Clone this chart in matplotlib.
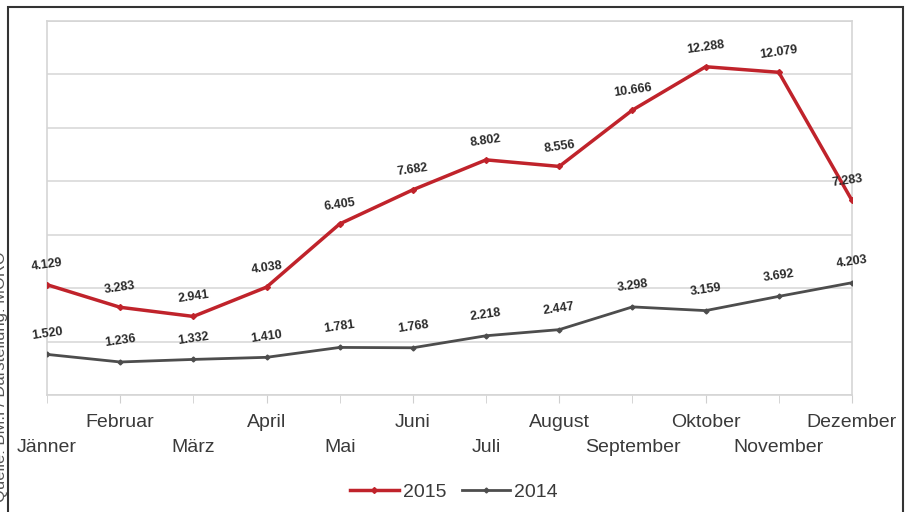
import numpy as np
import matplotlib
matplotlib.use("Agg")
import matplotlib.pyplot as plt
from matplotlib.patches import Rectangle

months = ["Jänner", "Februar", "März", "April", "Mai", "Juni", "Juli",
          "August", "September", "Oktober", "November", "Dezember"]
y2015 = [4129, 3283, 2941, 4038, 6405, 7682, 8802, 8556, 10666, 12288, 12079, 7283]
y2014 = [1520, 1236, 1332, 1410, 1781, 1768, 2218, 2447, 3298, 3159, 3692, 4203]

plt.rcParams['font.family'] = ['Liberation Sans', 'DejaVu Sans']

fig = plt.figure(figsize=(9.08, 5.12), dpi=100)
ax = fig.add_axes([47/908, 1-395/512, (852-47)/908, (395-21)/512])

x = np.arange(len(months))
red = "#c0232b"
grey = "#4d4d4d"

ax.plot(x, y2015, color=red, lw=2.5, marker="D", ms=3, label="2015", zorder=3)
ax.plot(x, y2014, color=grey, lw=2.0, marker="D", ms=2.5, label="2014", zorder=3)

def fmt(v):
    return f"{v:,}".replace(",", ".")

for xi, v in zip(x, y2015):
    dx = -3 if xi == 11 else 0
    ax.annotate(fmt(v), (xi, v), xytext=(dx, 14), textcoords="offset points",
                ha="center", va="center", fontsize=9, fontweight="bold",
                color="#2a2a2a", rotation=8)
for xi, v in zip(x, y2014):
    ax.annotate(fmt(v), (xi, v), xytext=(0, 15), textcoords="offset points",
                ha="center", va="center", fontsize=9, fontweight="bold",
                color="#2a2a2a", rotation=8)

ax.set_xlim(0, 11)
ax.set_ylim(0, 14000)
ax.set_yticks(np.arange(0, 14001, 2000))
ax.yaxis.grid(True, color="#dcdcdc", lw=1.3)
ax.set_axisbelow(True)
ax.tick_params(axis="y", which="both", left=False, labelleft=False)

# upper row: odd months (major ticks), lower row: even months (minor ticks)
ax.set_xticks(x[1::2])
ax.set_xticklabels(months[1::2])
ax.set_xticks(x[0::2], minor=True)
ax.set_xticklabels(months[0::2], minor=True)
ax.tick_params(axis="x", which="both", length=6, color="#cfcfcf",
               labelsize=14, labelcolor="#3a3a3a")
ax.tick_params(axis="x", which="major", pad=8)
ax.tick_params(axis="x", which="minor", pad=26)

for s in ax.spines.values():
    s.set_color("#d5d5d5")
    s.set_linewidth(1.2)

fig.legend(loc="center", bbox_to_anchor=(0.5, 1-492/512), ncol=2, frameon=False,
           fontsize=14, handlelength=2.5, handletextpad=0.2, columnspacing=0.8,
           labelcolor="#3a3a3a")

fig.add_artist(Rectangle((8/908, -0.1), (903-8)/908, 1.1-7/512,
                         transform=fig.transFigure, fill=False,
                         edgecolor="#333333", lw=1.5, clip_on=False))

fig.text(0.001, 0.265, "Quelle: BM.I / Darstellung: MORO", rotation=90,
         ha="center", va="center", fontsize=12, color="#555555")

fig.savefig("out.png", dpi=100)
